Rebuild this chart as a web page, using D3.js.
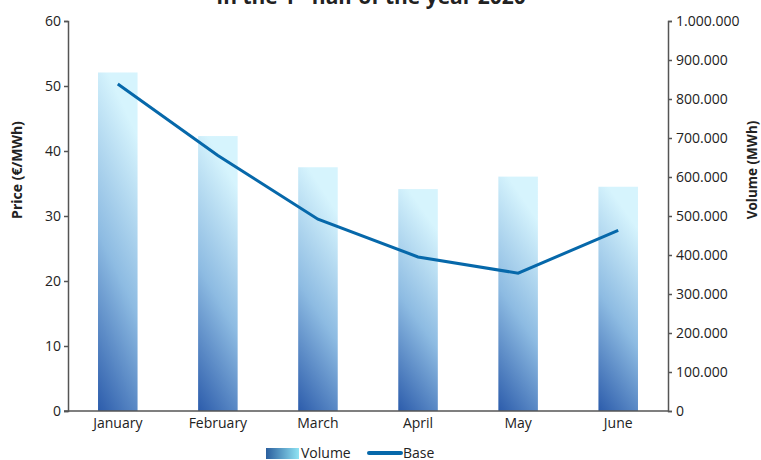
<!DOCTYPE html>
<html>
<head>
<meta charset="utf-8">
<script src="https://cdn.jsdelivr.net/npm/d3@7"></script>
<style>
  body { margin: 0; background: #fff; }
  text { font-family: "Open Sans", "Noto Sans", sans-serif; fill: #222; }
</style>
</head>
<body>
<script>
const months = ["January", "February", "March", "April", "May", "June"];
const volume = [868000, 705000, 625000, 569000, 601000, 575000];
const basePrice = [50.3, 39.3, 29.5, 23.7, 21.2, 27.8];
const priceTicks = [0, 10, 20, 30, 40, 50, 60];
const volumeTicks = [0, 100000, 200000, 300000, 400000, 500000, 600000, 700000, 800000, 900000, 1000000];

const width = 761, height = 460;
const margin = {left: 68, right: 93, top: 21, bottom: 49};

const svg = d3.select("body").append("svg")
    .attr("width", width)
    .attr("height", height);

const defs = svg.append("defs");
const grad = defs.append("linearGradient")
    .attr("id", "barGrad")
    .attr("x1", 0).attr("y1", 1).attr("x2", 0.25).attr("y2", 0);
grad.append("stop").attr("offset", "0%").attr("stop-color", "#2c5cab");
grad.append("stop").attr("offset", "50%").attr("stop-color", "#8dbbe2");
grad.append("stop").attr("offset", "100%").attr("stop-color", "#d6f4fd");

const legGrad = defs.append("linearGradient")
    .attr("id", "legGrad")
    .attr("x1", 0).attr("y1", 0.5).attr("x2", 1).attr("y2", 0.5);
legGrad.append("stop").attr("offset", "0%").attr("stop-color", "#2b5f9e");
legGrad.append("stop").attr("offset", "100%").attr("stop-color", "#8fe3f3");

const x = d3.scaleBand()
    .domain(months)
    .range([margin.left, width - margin.right])
    .paddingInner(0.605)
    .paddingOuter(0.3);

const yL = d3.scaleLinear().domain([0, 60]).range([height - margin.bottom, margin.top]);
const yR = d3.scaleLinear().domain([0, 1000000]).range([height - margin.bottom, margin.top]);

// bars
svg.append("g").selectAll("rect")
    .data(volume)
    .join("rect")
    .attr("x", (d, i) => x(months[i]))
    .attr("y", d => yR(d))
    .attr("width", x.bandwidth())
    .attr("height", d => yR(0) - yR(d))
    .attr("fill", "url(#barGrad)");

// line
const line = d3.line()
    .x((d, i) => x(months[i]) + x.bandwidth() / 2)
    .y(d => yL(d));

svg.append("path")
    .datum(basePrice)
    .attr("d", line)
    .attr("fill", "none")
    .attr("stroke", "#0668aa")
    .attr("stroke-width", 3);

// axes
const fmt = d3.formatLocale({decimal: ",", thousands: ".", grouping: [3], currency: ["", ""]}).format(",d");

const axL = svg.append("g")
    .attr("transform", `translate(${margin.left},0)`)
    .call(d3.axisLeft(yL).tickValues(priceTicks).tickSize(4).tickPadding(3));

const axR = svg.append("g")
    .attr("transform", `translate(${width - margin.right},0)`)
    .call(d3.axisRight(yR).tickValues(volumeTicks).tickFormat(fmt).tickSize(4).tickPadding(4));

const axB = svg.append("g")
    .attr("transform", `translate(0,${height - margin.bottom})`)
    .call(d3.axisBottom(x).tickSize(0).tickPadding(7));

[axL, axR, axB].forEach(a => {
    a.selectAll("path, line").attr("stroke", "#555").attr("stroke-width", 1.5);
    a.selectAll("text").attr("font-size", 14).attr("fill", "#222")
        .style("font-family", "'Open Sans', sans-serif");
});
axB.select(".domain").attr("d", `M${margin.left - 4},0H${width - margin.right}`);

// axis titles
svg.append("text")
    .attr("transform", `translate(22,170) rotate(-90)`)
    .attr("text-anchor", "middle")
    .attr("font-size", 14)
    .attr("font-weight", "bold")
    .text("Price (€/MWh)");

svg.append("text")
    .attr("transform", `translate(757,170) rotate(-90)`)
    .attr("text-anchor", "middle")
    .attr("font-size", 13.5)
    .attr("font-weight", "bold")
    .text("Volume (MWh)");

// title (clipped at top, as in the source)
const title = svg.append("text")
    .attr("x", 371)
    .attr("y", 4)
    .attr("text-anchor", "middle")
    .attr("font-size", 21)
    .attr("font-weight", "bold");
title.append("tspan").text("In the 1");
title.append("tspan").attr("font-size", 12).attr("dy", -8).text("st");
title.append("tspan").attr("dy", 8).text(" half of the year 2020");

// legend
const leg = svg.append("g");
leg.append("rect")
    .attr("x", 266).attr("y", 448).attr("width", 33).attr("height", 11)
    .attr("fill", "url(#legGrad)");
leg.append("text").attr("x", 301).attr("y", 458).attr("font-size", 14).text("Volume");
leg.append("line")
    .attr("x1", 369).attr("x2", 401).attr("y1", 453).attr("y2", 453)
    .attr("stroke", "#0668aa").attr("stroke-width", 4).attr("stroke-linecap", "round");
leg.append("text").attr("x", 403).attr("y", 458).attr("font-size", 14).text("Base");
</script>
</body>
</html>
